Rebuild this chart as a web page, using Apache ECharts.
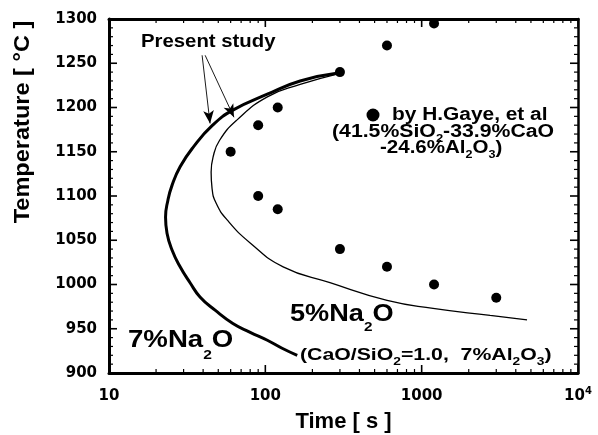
<!DOCTYPE html>
<html><head><meta charset="utf-8">
<script src="https://cdn.jsdelivr.net/npm/echarts@6/dist/echarts.min.js"></script>
<style>html,body{margin:0;padding:0;background:#fff}#c{width:598px;height:435px}</style>
</head><body><div id="c"></div>
<script>
// ---- data ----
const gayeTime = [60, 90, 120, 90, 120, 300, 600, 1200, 300, 600, 1200, 3000];
const gayeTemp = [1150, 1180, 1200, 1100, 1085, 1240, 1270, 1295, 1040, 1020, 1000, 985];

const na7Time = [292, 167, 103, 62, 46, 34.5, 28.5, 25.3, 23.8, 23.0, 23.5, 25.3, 28.5, 33, 38.2, 47.7, 62, 80, 103, 128, 160];
const na7Temp = [1239, 1230, 1215, 1197, 1180, 1155, 1133, 1112, 1095, 1076, 1058, 1039, 1020, 1002, 986, 971, 956, 946, 937, 928, 920];

const na5Time = [292, 167, 103, 66, 51, 46.3, 45, 45.6, 48.4, 57, 80, 130, 259, 601, 1183, 2740, 4720];
const na5Temp = [1238, 1226, 1212, 1186, 1163, 1144, 1127, 1109, 1092, 1073, 1047, 1020, 1002, 982, 973, 965, 960];

const arrowStart = [[39.4, 1259], [41.2, 1259]];
const arrowEnd = [[44.3, 1182], [63, 1189]];

const xTickValues = [10, 100, 1000, 10000];
const xTickLabels = ['10', '100', '1000', '10{sup|4}'];
const xMinorTicks = [20, 30, 40, 50, 60, 70, 80, 90, 200, 300, 400, 500, 600, 700, 800, 900, 2000, 3000, 4000, 5000, 6000, 7000, 8000, 9000];
const yMin = 900, yMax = 1300, yStep = 50, yMinorStep = 10;

// ---- chart ----
const FONT = '"Liberation Sans", Arial, Helvetica, sans-serif';
const TICKFONT = '"DejaVu Sans", sans-serif';
const pair = (xs, ys) => xs.map((x, i) => [x, ys[i]]);
const MAJOR = 8, MINOR = 4;

// inward tick marks drawn as thin rect symbols at tick values (placed by the axes' scales)
const yTickVals = [];
for (let v = yMin; v <= yMax; v += yMinorStep) yTickVals.push(v);
const isMajorY = v => (v - yMin) % yStep === 0;
const xAll = xTickValues.concat(xMinorTicks);
const isMajorX = v => xTickValues.indexOf(v) >= 0;

const tickBottom = xAll.map(v => { const L = isMajorX(v) ? MAJOR : MINOR, w = isMajorX(v) ? 1.6 : 1.2;
  return { value: [v, yMin], symbolSize: [w, L], symbolOffset: [0, -L / 2] }; });
const tickTop = xAll.map(v => { const L = isMajorX(v) ? MAJOR : MINOR, w = isMajorX(v) ? 1.6 : 1.2;
  return { value: [v, yMax], symbolSize: [w, L], symbolOffset: [0, L / 2] }; });
const tickLeft = yTickVals.map(v => { const L = isMajorY(v) ? MAJOR : MINOR, w = isMajorY(v) ? 1.6 : 1.2;
  return { value: [10, v], symbolSize: [L, w], symbolOffset: [L / 2, 0] }; });
const tickRight = yTickVals.map(v => { const L = isMajorY(v) ? MAJOR : MINOR, w = isMajorY(v) ? 1.6 : 1.2;
  return { value: [10000, v], symbolSize: [L, w], symbolOffset: [-L / 2, 0] }; });

function tickSeries(name, data) {
  return {
    name: name, type: 'scatter', data: data, symbol: 'rect', clip: false, silent: true, z: 6,
    itemStyle: { color: '#000', opacity: 1 }, emphasis: { disabled: true }, animation: false
  };
}

function label(x, y, text, size, sx, subSize, subPad) {
  return {
    type: 'text', x: x, y: y, scaleX: sx, silent: true,
    style: {
      text: text, fill: '#000', align: 'left', verticalAlign: 'middle',
      font: 'bold ' + size + 'px ' + FONT, lineHeight: size,
      rich: { sub: { fontSize: subSize, fontWeight: 'bold', fontFamily: FONT, padding: [subPad, 0, 0, 0] } }
    }
  };
}

const chart = echarts.init(document.getElementById('c'));
chart.setOption({
  animation: false,
  grid: { left: 109, right: 20, top: 19, bottom: 62, containLabel: false, outerBoundsMode: 'none' },
  xAxis: [
    {
      type: 'log', min: 10, max: 10000, position: 'bottom',
      splitLine: { show: false }, axisTick: { show: false }, minorTick: { show: false },
      axisLine: { show: true, lineStyle: { color: '#000', width: 3 } },
      axisLabel: {
        show: true, margin: 16, color: '#000', fontFamily: TICKFONT, fontWeight: 'bold', fontSize: 15,
        formatter: v => { const i = xTickValues.indexOf(Math.round(v)); return i < 0 ? '' : xTickLabels[i]; },
        rich: { sup: { fontSize: 10, fontWeight: 'bold', fontFamily: TICKFONT, padding: [0, 0, 10, 0], lineHeight: 15 } }
      },
      name: 'Time [ s ]', nameLocation: 'middle', nameGap: 38,
      nameTextStyle: { color: '#000', fontFamily: FONT, fontWeight: 'bold', fontSize: 22 }
    },
    {
      type: 'log', min: 10, max: 10000, position: 'top',
      splitLine: { show: false }, axisTick: { show: false }, axisLabel: { show: false },
      axisLine: { show: true, lineStyle: { color: '#000', width: 3 } }
    }
  ],
  yAxis: [
    {
      type: 'value', min: yMin, max: yMax, interval: yStep, position: 'left',
      splitLine: { show: false }, axisTick: { show: false }, minorTick: { show: false },
      axisLine: { show: true, lineStyle: { color: '#000', width: 3 } },
      axisLabel: { show: true, margin: 12, color: '#000', fontFamily: TICKFONT, fontWeight: 'bold', fontSize: 15, formatter: v => String(v) }
    },
    {
      type: 'value', min: yMin, max: yMax, interval: yStep, position: 'right',
      splitLine: { show: false }, axisTick: { show: false }, axisLabel: { show: false },
      axisLine: { show: true, lineStyle: { color: '#000', width: 2.5 } }
    }
  ],
  series: [
    {
      name: '7%Na2O', type: 'line', smooth: 0.5,
      data: pair(na7Time, na7Temp), showSymbol: false, symbol: 'none',
      lineStyle: { color: '#000', width: 3 }, silent: true, z: 3
    },
    {
      name: '5%Na2O', type: 'line', smooth: 0.5,
      data: pair(na5Time, na5Temp), showSymbol: false, symbol: 'none',
      lineStyle: { color: '#000', width: 1.3 }, silent: true, z: 3
    },
    {
      name: 'by H.Gaye, et al', type: 'scatter',
      data: pair(gayeTime, gayeTemp), symbol: 'circle', symbolSize: 10,
      itemStyle: { color: '#000', opacity: 1 }, silent: true, z: 4,
      markLine: {
        silent: true, animation: false, symbol: ['none', 'arrow'], symbolSize: [8, 13],
        label: { show: false },
        lineStyle: { color: '#000', width: 0.9, type: 'solid', opacity: 1 },
        itemStyle: { color: '#000' },
        data: arrowStart.map((s, i) => [{ coord: s }, { coord: arrowEnd[i] }])
      }
    },
    tickSeries('ticksBottom', tickBottom),
    tickSeries('ticksTop', tickTop),
    tickSeries('ticksLeft', tickLeft),
    tickSeries('ticksRight', tickRight)
  ],
  graphic: [
    {
      type: 'text', x: 23, y: 122, rotation: Math.PI / 2, scaleX: 1.07, silent: true,
      style: { text: 'Temperature [ °C ]', fill: '#000', align: 'center', verticalAlign: 'middle', font: 'bold 22px ' + FONT }
    },
    label(141, 42, 'Present study', 18, 1.13, 11, 0),
    { type: 'circle', shape: { cx: 373, cy: 115, r: 6.5 }, style: { fill: '#000' }, silent: true },
    label(392, 115, 'by H.Gaye, et al', 18, 1.16, 11, 0),
    label(332, 132, '(41.5%SiO{sub|2}-33.9%CaO', 18, 1.18, 11, 14),
    label(380, 148, '-24.6%Al{sub|2}O{sub|3})', 18, 1.14, 11, 14),
    label(128, 341, '7%Na{sub|2}O', 23, 1.2, 13, 28),
    label(290, 315, '5%Na{sub|2}O', 23, 1.18, 13, 24),
    label(300, 355, '(CaO/SiO{sub|2}=1.0,  7%Al{sub|2}O{sub|3})', 17, 1.25, 11, 14)
  ]
});
</script></body></html>
